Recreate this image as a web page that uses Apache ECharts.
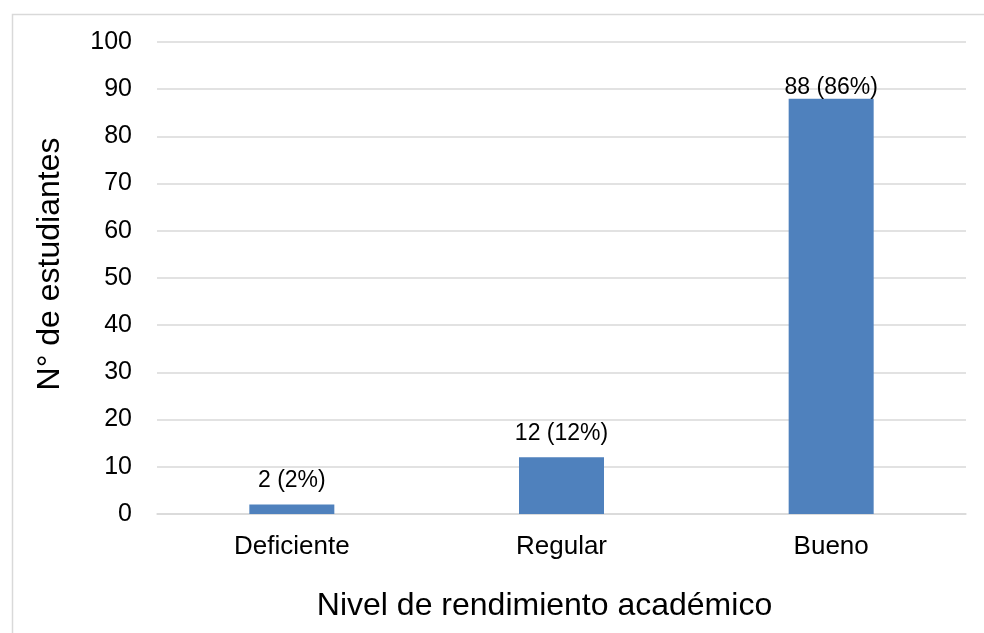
<!DOCTYPE html>
<html>
<head>
<meta charset="utf-8">
<script src="https://cdn.jsdelivr.net/npm/echarts@6/dist/echarts.min.js"></script>
<style>html,body{margin:0;padding:0;background:#fff;}#c{width:984px;height:633px;}</style>
</head>
<body>
<div id="c"></div>
<script>
const categories = ['Deficiente', 'Regular', 'Bueno'];
const counts = [2, 12, 88];
const percents = [2, 12, 86];
const yTicks = [0, 10, 20, 30, 40, 50, 60, 70, 80, 90, 100];

const chart = echarts.init(document.getElementById('c'), null, {renderer: 'canvas'});
const font = 'Liberation Sans, Arial, sans-serif';
const data = counts.map((v, i) => ({
  value: v,
  label: { distance: v > 80 ? -1 : 12 }
}));
chart.setOption({
  animation: false,
  backgroundColor: '#fff',
  graphic: [{
    type: 'rect', left: 10, top: 12, shape: { width: 1000, height: 700 },
    style: { fill: 'none', stroke: '#d9d9d9', lineWidth: 1.5 }, z: -1
  }],
  grid: { left: 157, right: 18, top: 42, bottom: 119 },
  xAxis: {
    type: 'category', data: categories,
    axisLine: { lineStyle: { color: '#d9d9d9', width: 1.5 } },
    axisTick: { show: false },
    axisLabel: { color: '#000', fontSize: 26, fontFamily: font, margin: 20 },
    name: 'Nivel de rendimiento académico', nameLocation: 'middle', nameGap: 76,
    nameTextStyle: { color: '#000', fontSize: 32, fontFamily: font, padding: [0, 34, 0, 0] }
  },
  yAxis: {
    type: 'value', min: yTicks[0], max: yTicks[yTicks.length - 1], interval: yTicks[1] - yTicks[0],
    axisLine: { show: false }, axisTick: { show: false },
    splitLine: { lineStyle: { color: '#d9d9d9', width: 1.5 } },
    axisLabel: { color: '#000', fontSize: 25, fontFamily: font, margin: 25 },
    name: 'N° de estudiantes', nameLocation: 'middle', nameGap: 91,
    nameTextStyle: { color: '#000', fontSize: 32, fontFamily: font, padding: [0, 0, 0, 28] }
  },
  series: [{
    type: 'bar', data: data, barWidth: 85,
    itemStyle: { color: '#4f81bd' },
    label: {
      show: true, position: 'top', color: '#000', fontSize: 23, fontFamily: font,
      formatter: p => counts[p.dataIndex] + ' (' + percents[p.dataIndex] + '%)'
    }
  }]
});
</script>
</body>
</html>
